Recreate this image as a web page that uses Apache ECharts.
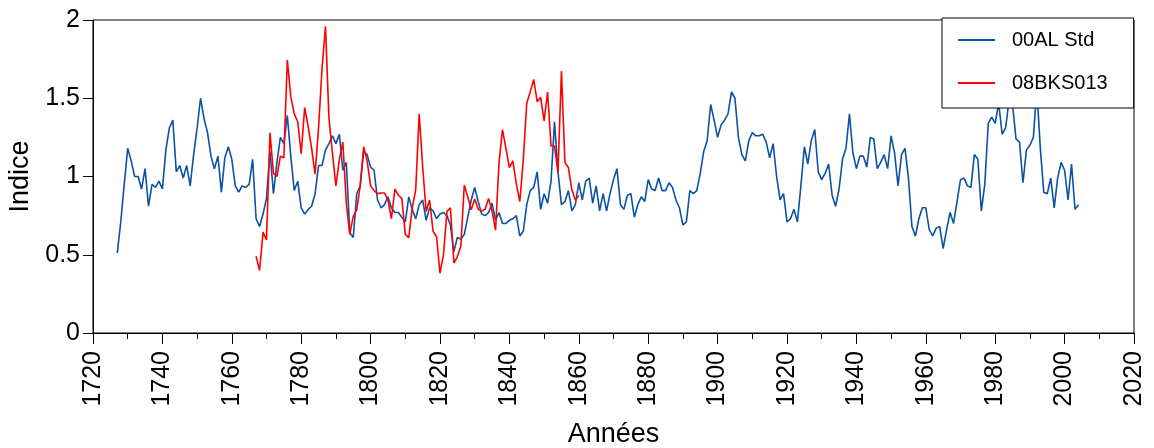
<!DOCTYPE html>
<html>
<head>
<meta charset="utf-8">
<script src="https://cdn.jsdelivr.net/npm/echarts@6/dist/echarts.min.js"></script>
<style>
  html, body { margin: 0; padding: 0; background: #fff; }
  #chart { width: 1154px; height: 448px; }
</style>
</head>
<body>
<div id="chart"></div>
<script>
// ---- Data ----
const seriesNames = ["00AL Std", "08BKS013"];

const blueStartYear = 1727;
const blueValues = [
  0.51, 0.71, 0.95, 1.18, 1.10, 1.00, 1.00, 0.92, 1.05, 0.81, // 1727-1736
  0.95, 0.93, 0.97, 0.92, 1.17, 1.31, 1.36, 1.03, 1.07, 0.99, // 1737-1746
  1.07, 0.94, 1.14, 1.31, 1.50, 1.37, 1.28, 1.13, 1.05, 1.13, // 1747-1756
  0.90, 1.12, 1.19, 1.11, 0.94, 0.90, 0.94, 0.93, 0.95, 1.11, // 1757-1766
  0.73, 0.68, 0.76, 0.86, 1.16, 0.89, 1.09, 1.25, 1.21, 1.39, // 1767-1776
  1.13, 0.91, 0.97, 0.80, 0.76, 0.79, 0.81, 0.89, 1.07, 1.07, // 1777-1786
  1.17, 1.21, 1.26, 1.21, 1.27, 1.04, 1.09, 0.64, 0.61, 0.89, // 1787-1796
  0.94, 1.16, 1.14, 1.06, 1.04, 0.85, 0.80, 0.82, 0.87, 0.80, // 1797-1806
  0.77, 0.77, 0.74, 0.71, 0.87, 0.79, 0.73, 0.82, 0.85, 0.72, // 1807-1816
  0.80, 0.78, 0.73, 0.76, 0.77, 0.75, 0.69, 0.52, 0.61, 0.60, // 1817-1826
  0.63, 0.74, 0.85, 0.93, 0.84, 0.76, 0.75, 0.77, 0.83, 0.72, // 1827-1836
  0.77, 0.70, 0.70, 0.72, 0.73, 0.75, 0.62, 0.65, 0.82, 0.91, // 1837-1846
  0.93, 1.03, 0.79, 0.89, 0.83, 0.97, 1.35, 1.03, 0.82, 0.84, // 1847-1856
  0.91, 0.78, 0.82, 0.96, 0.85, 0.97, 0.99, 0.83, 0.94, 0.78, // 1857-1866
  0.89, 0.78, 0.89, 0.98, 1.05, 0.82, 0.79, 0.88, 0.89, 0.74, // 1867-1876
  0.82, 0.87, 0.84, 0.98, 0.92, 0.91, 0.99, 0.91, 0.91, 0.96, // 1877-1886
  0.93, 0.85, 0.80, 0.69, 0.71, 0.91, 0.89, 0.91, 1.02, 1.16, // 1887-1896
  1.23, 1.46, 1.36, 1.25, 1.33, 1.36, 1.40, 1.54, 1.50, 1.25, // 1897-1906
  1.14, 1.10, 1.23, 1.28, 1.26, 1.26, 1.27, 1.22, 1.12, 1.21, // 1907-1916
  1.00, 0.85, 0.89, 0.71, 0.73, 0.79, 0.71, 0.94, 1.19, 1.08, // 1917-1926
  1.23, 1.30, 1.03, 0.98, 1.02, 1.08, 0.88, 0.81, 0.92, 1.11, // 1927-1936
  1.18, 1.40, 1.15, 1.05, 1.13, 1.13, 1.06, 1.25, 1.24, 1.05, // 1937-1946
  1.09, 1.14, 1.05, 1.26, 1.15, 0.94, 1.14, 1.18, 0.99, 0.68, // 1947-1956
  0.62, 0.73, 0.80, 0.80, 0.66, 0.62, 0.67, 0.68, 0.54, 0.66, // 1957-1966
  0.77, 0.70, 0.84, 0.98, 0.99, 0.94, 0.93, 1.14, 1.11, 0.78, // 1967-1976
  0.95, 1.34, 1.38, 1.34, 1.47, 1.27, 1.31, 1.49, 1.46, 1.24, // 1977-1986
  1.22, 0.96, 1.17, 1.20, 1.25, 1.56, 1.18, 0.90, 0.89, 0.99, // 1987-1996
  0.80, 0.99, 1.09, 1.04, 0.85, 1.08, 0.79, 0.82              // 1997-2004
];

const redStartYear = 1767;
const redValues = [
  0.49, 0.40, 0.645, 0.595, 1.28, 1.02, 1.00, 1.13, 1.12, 1.745, // 1767-1776
  1.51, 1.40, 1.35, 1.145, 1.44, 1.32, 1.18, 1.015, 1.31, 1.69,  // 1777-1786
  1.96, 1.37, 1.15, 0.94, 1.11, 1.22, 0.83, 0.63, 0.745, 0.787,  // 1787-1796
  0.94, 1.19, 1.10, 0.94, 0.91, 0.89, 0.895, 0.895, 0.85, 0.73,  // 1797-1806
  0.92, 0.88, 0.86, 0.63, 0.61, 0.80, 0.915, 1.40, 1.064, 0.776, // 1807-1816
  0.85, 0.65, 0.615, 0.383, 0.50, 0.776, 0.80, 0.447, 0.487, 0.555, // 1817-1826
  0.945, 0.87, 0.787, 0.856, 0.79, 0.78, 0.79, 0.86, 0.78, 0.657, // 1827-1836
  1.085, 1.30, 1.18, 1.057, 1.10, 0.953, 0.84, 1.106, 1.47, 1.54, // 1837-1846
  1.62, 1.478, 1.506, 1.355, 1.54, 1.195, 1.195, 1.025, 1.674, 1.089, // 1847-1856
  1.057, 0.915, 0.85, 0.878                                        // 1857-1860
];

const xTicks = { min: 1720, max: 2020, interval: 20 };
const yTicks = { min: 0, max: 2, interval: 0.5 };

// ---- Build series data ----
const blueData = blueValues.map((v, i) => [blueStartYear + i, v]);
const redData = redValues.map((v, i) => [redStartYear + i, v]);

const FONT = "'Liberation Sans', Arial, sans-serif";
const chart = echarts.init(document.getElementById('chart'), null, { renderer: 'canvas' });

chart.setOption({
  animation: false,
  backgroundColor: '#ffffff',
  textStyle: { fontFamily: FONT, color: '#000' },
  grid: {
    left: 93, top: 20, right: 20, bottom: 115,
    outerBoundsMode: 'none',
    containLabel: false,
    show: true, borderColor: '#000', borderWidth: 1, backgroundColor: 'transparent'
  },
  legend: {
    orient: 'vertical',
    left: 942, top: 18,
    padding: [12, 26, 15, 16],
    itemGap: 23,
    icon: 'rect',
    itemWidth: 37, itemHeight: 2,
    backgroundColor: '#fff',
    borderColor: '#000', borderWidth: 1,
    textStyle: { fontFamily: FONT, fontSize: 20, color: '#000', padding: [0, 0, 0, 12] },
    data: seriesNames
  },
  xAxis: {
    type: 'value',
    min: xTicks.min, max: xTicks.max, interval: xTicks.interval,
    name: 'Années',
    nameLocation: 'middle',
    nameGap: 88,
    nameTextStyle: { fontFamily: FONT, fontSize: 27, color: '#000' },
    axisLine: { show: true, lineStyle: { color: '#000', width: 1 } },
    axisTick: { show: true, inside: false, length: 11, lineStyle: { color: '#000', width: 1 } },
    minorTick: { show: true, splitNumber: 2, length: 6, lineStyle: { color: '#000', width: 1 } },
    axisLabel: { rotate: 90, fontSize: 25, margin: 18, color: '#000', fontFamily: FONT,
      formatter: v => String(v) },
    splitLine: { show: false }
  },
  yAxis: {
    type: 'value',
    min: yTicks.min, max: yTicks.max, interval: yTicks.interval,
    name: 'Indice',
    nameLocation: 'middle',
    nameGap: 55,
    nameTextStyle: { fontFamily: FONT, fontSize: 27, color: '#000' },
    axisLine: { show: true, lineStyle: { color: '#000', width: 1 } },
    axisTick: { show: true, inside: false, length: 10, lineStyle: { color: '#000', width: 1 } },
    axisLabel: { fontSize: 25, margin: 13, color: '#000', fontFamily: FONT,
      formatter: v => String(v) },
    splitLine: { show: false }
  },
  series: [
    {
      name: seriesNames[0], type: 'line', data: blueData,
      symbol: 'none', smooth: false,
      lineStyle: { color: '#0B52A3', width: 1.6 },
      itemStyle: { color: '#0B52A3' }
    },
    {
      name: seriesNames[1], type: 'line', data: redData,
      symbol: 'none', smooth: false,
      lineStyle: { color: '#FF0000', width: 1.6 },
      itemStyle: { color: '#FF0000' }
    }
  ]
});
</script>
</body>
</html>
